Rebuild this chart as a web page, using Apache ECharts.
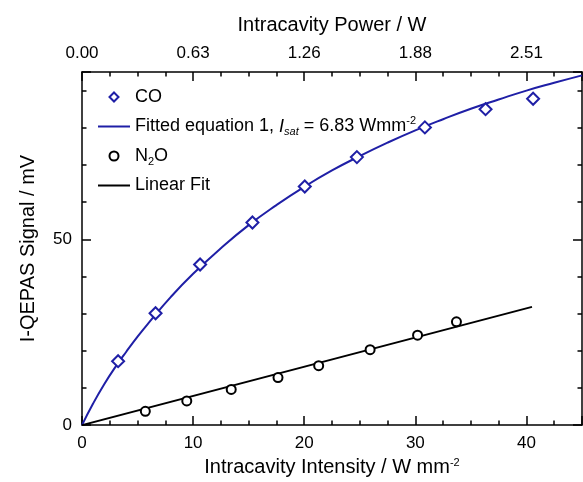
<!DOCTYPE html>
<html>
<head>
<meta charset="UTF-8">
<title>I-QEPAS signal</title>
<script src="https://cdn.jsdelivr.net/npm/echarts@6/dist/echarts.min.js"></script>
</head>
<body style="margin:0">
<div id="main" style="width:583px;height:482px;"></div>
<script>
// CO measurements (diamonds)
var coX = [3.25, 6.62, 10.63, 15.34, 20.05, 24.74, 30.86, 36.32, 40.6];
var coY = [17.2, 30.1, 43.2, 54.5, 64.2, 72.1, 80.1, 85.0, 87.8];
// fitted curve
var fitX = [0, 1, 2, 3, 4, 5, 6, 8, 10, 12.5, 15, 17.5, 20, 22.5, 25, 27.5, 30, 32.5, 35, 37.5, 40, 42.5, 45];
var fitY = [0, 5.8, 11.0, 15.6, 19.8, 23.8, 27.5, 34.5, 40.7, 47.6, 53.8, 59.2, 64.1, 68.5, 72.4, 76.0, 79.3, 82.3, 85.1, 87.6, 90.0, 92.1, 94.1];
// N2O measurements (circles)
var n2oX = [5.70, 9.43, 13.43, 17.64, 21.3, 25.93, 30.2, 33.7];
var n2oY = [3.7, 6.5, 9.6, 12.8, 16.0, 20.3, 24.2, 27.8];
// linear fit ends
var linX = [0, 40.5];
var linY = [0, 31.8];
// top axis tick labels (intracavity power, W)
var topLabels = ['0.00', '0.63', '1.26', '1.88', '2.51'];

function pairs(xs, ys) {
	var res = [];
	for (var i = 0; i < xs.length; i++) res.push([xs[i], ys[i]]);
	return res;
}

var FONT = 'Liberation Sans, Arial, sans-serif';
var BLUE = '#1f1fa6';

var rich = {
	it: { fontStyle: 'italic', fontSize: 18, lineHeight: 22, fontFamily: FONT, color: '#000' },
	sub: { fontSize: 11, lineHeight: 10, verticalAlign: 'bottom', fontFamily: FONT, color: '#000' },
	subi: { fontSize: 11, lineHeight: 10, verticalAlign: 'bottom', fontStyle: 'italic', fontFamily: FONT, color: '#000' },
	sup: { fontSize: 11, lineHeight: 10, verticalAlign: 'top', fontFamily: FONT, color: '#000' }
};

// legend icons (kept square / thin inside the 32px wide icon box)
var ICON_DIAMOND = 'path://M0,-1L1,0L0,1L-1,0Z';
var ICON_CIRCLE = 'path://M-1,0A1,1,0,1,0,1,0A1,1,0,1,0,-1,0Z';
var ICON_LINE = 'path://M0,0L32,0L32,2L0,2Z';

var axisCommon = {
	min: 0,
	axisLine: { show: true, onZero: false, lineStyle: { color: '#000', width: 1.5 } },
	axisTick: { show: true, inside: true, length: 9, lineStyle: { color: '#000', width: 1.5 } },
	minorTick: { show: true, length: 4.5, lineStyle: { color: '#000', width: 1.5 } },
	splitLine: { show: false },
	axisLabel: { color: '#000', fontSize: 17, fontFamily: FONT, margin: 10, showMaxLabel: false }
};

function ax(extra) {
	return echarts.util.merge(echarts.util.clone(axisCommon), extra, true);
}

var myChart = echarts.init(document.getElementById('main'));

var option = {
	backgroundColor: '#fff',
	animation: false,
	textStyle: { fontFamily: FONT },
	grid: { left: 82, right: 1, top: 72, bottom: 55, containLabel: false },
	legend: {
		orient: 'vertical',
		left: 93,
		top: 81,
		itemWidth: 32,
		itemHeight: 9,
		itemGap: 7.5,
		symbolKeepAspect: true,
		data: [
			{ name: 'CO', icon: ICON_DIAMOND, itemStyle: { color: '#fff', borderColor: BLUE, borderWidth: 2 } },
			{ name: 'Fitted', icon: ICON_LINE, itemStyle: { color: BLUE, borderWidth: 0 } },
			{ name: 'N2O', icon: ICON_CIRCLE, itemStyle: { color: '#fff', borderColor: '#000', borderWidth: 2 } },
			{ name: 'Linear Fit', icon: ICON_LINE, itemStyle: { color: '#000', borderWidth: 0 } }
		],
		textStyle: { fontSize: 18, lineHeight: 22, color: '#000', fontFamily: FONT, rich: rich },
		formatter: function (name) {
			if (name === 'Fitted') return 'Fitted equation 1, {it|I}{subi|sat} = 6.83 Wmm{sup|-2}';
			if (name === 'N2O') return 'N{sub|2}O';
			return name;
		}
	},
	xAxis: [
		ax({
			type: 'value', position: 'bottom', max: 45, interval: 10,
			minorTick: { splitNumber: 4 },
			name: 'Intracavity Intensity / W mm{sup|-2}',
			nameLocation: 'middle', nameGap: 31,
			nameTextStyle: { fontSize: 20, color: '#000', fontFamily: FONT, rich: { sup: { fontSize: 11, lineHeight: 10, verticalAlign: 'top', color: '#000', fontFamily: FONT } } }
		}),
		ax({
			type: 'value', position: 'top', max: 45, interval: 10,
			minorTick: { splitNumber: 4 },
			axisLabel: {
				formatter: function (v) { var s = topLabels[Math.round(v / 10)]; return s === undefined ? '' : s; }
			},
			name: 'Intracavity Power / W',
			nameLocation: 'middle', nameGap: 37,
			nameTextStyle: { fontSize: 20, color: '#000', fontFamily: FONT }
		})
	],
	yAxis: [
		ax({
			type: 'value', position: 'left', max: 95, interval: 50,
			minorTick: { splitNumber: 5 },
			name: 'I-QEPAS Signal / mV',
			nameLocation: 'middle', nameGap: 44, nameRotate: 90,
			nameTextStyle: { fontSize: 20, color: '#000', fontFamily: FONT }
		}),
		ax({
			type: 'value', position: 'right', max: 95, interval: 50,
			minorTick: { splitNumber: 5 },
			axisLabel: { show: false }
		})
	],
	series: [
		{
			name: 'Fitted', type: 'line', smooth: true, symbol: 'none', z: 2,
			data: pairs(fitX, fitY),
			lineStyle: { color: BLUE, width: 2 },
			itemStyle: { color: BLUE }
		},
		{
			name: 'Linear Fit', type: 'line', symbol: 'none', z: 2,
			data: pairs(linX, linY),
			lineStyle: { color: '#000', width: 2 },
			itemStyle: { color: '#000' }
		},
		{
			name: 'CO', type: 'scatter', symbol: 'diamond', symbolSize: 12, z: 3,
			data: pairs(coX, coY),
			itemStyle: { color: '#fff', borderColor: BLUE, borderWidth: 2, opacity: 1 }
		},
		{
			name: 'N2O', type: 'scatter', symbol: 'circle', symbolSize: 9, z: 3,
			data: pairs(n2oX, n2oY),
			itemStyle: { color: '#fff', borderColor: '#000', borderWidth: 2, opacity: 1 }
		}
	]
};
myChart.setOption(option);
</script>
</body>
</html>
